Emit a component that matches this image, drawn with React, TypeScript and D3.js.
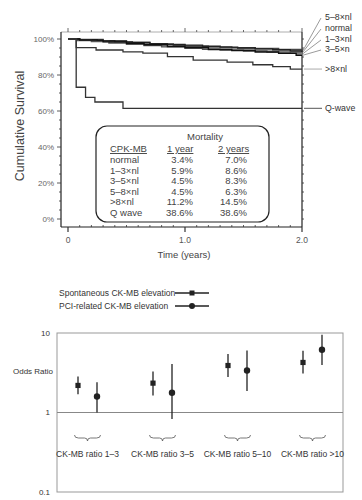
import * as d3 from "d3";

// Kaplan-Meier curves, [time in years, survival %]
const curve58 = [[0, 100], [0.1, 99.8], [0.3, 99.0], [0.5, 98.2], [0.7, 97.2], [0.9, 96.5], [1.0, 96.0], [1.2, 95.6], [1.4, 95.2], [1.6, 94.8], [1.8, 94.2], [2.0, 93.6]];
const curveNormal = [[0, 100], [0.1, 99.6], [0.25, 99.0], [0.4, 98.4], [0.55, 97.9], [0.7, 97.4], [0.85, 97.0], [1.0, 96.6], [1.15, 96.0], [1.3, 95.5], [1.45, 95.0], [1.6, 94.5], [1.75, 94.0], [1.9, 93.3], [2.0, 92.8]];
const curve13 = [[0, 100], [0.08, 99.2], [0.2, 98.6], [0.35, 97.8], [0.5, 97.0], [0.65, 96.4], [0.8, 95.6], [1.0, 94.8], [1.15, 94.3], [1.3, 93.8], [1.5, 93.3], [1.7, 92.7], [1.9, 92.3], [2.0, 91.9]];
const curve35 = [[0, 100], [0.1, 99.4], [0.3, 98.4], [0.5, 97.6], [0.65, 96.8], [0.85, 95.8], [1.0, 95.2], [1.2, 94.2], [1.4, 93.6], [1.6, 92.8], [1.8, 92.0], [1.95, 91.0], [2.0, 91.0]];
const curveGt8 = [[0, 100], [0.07, 95.2], [0.24, 93.9], [0.47, 92.9], [0.64, 92.1], [0.85, 90.2], [1.07, 88.3], [1.36, 87.2], [1.58, 85.7], [1.75, 84.6], [1.9, 83.3], [2.0, 83.3]];
const curveQ = [[0, 100], [0.07, 73.2], [0.15, 67.6], [0.23, 65.0], [0.47, 61.5], [2.0, 61.5]];

const curveLabels = ["5–8×nl", "normal", "1–3×nl", "3–5×n", ">8×nl", "Q-wave"];
const yTicks = [0, 20, 40, 60, 80, 100];
const xTicks = [0, 1, 2];

// mortality table
const tableRows = ["normal", "1–3×nl", "3–5×nl", "5–8×nl", ">8×nl", "Q wave"];
const mort1 = ["3.4%", "5.9%", "4.5%", "4.5%", "11.2%", "38.6%"];
const mort2 = ["7.0%", "8.6%", "8.3%", "6.3%", "14.5%", "38.6%"];

// odds ratio chart
const groups = ["CK-MB ratio 1–3", "CK-MB ratio 3–5", "CK-MB ratio 5–10", "CK-MB ratio >10"];
const spontOR = [2.19, 2.34, 3.9, 4.26];
const spontLo = [1.7, 1.64, 2.79, 3.09];
const spontHi = [2.84, 3.28, 5.43, 5.97];
const pciOR = [1.59, 1.77, 3.38, 6.15];
const pciLo = [1.0, 0.83, 1.87, 3.95];
const pciHi = [2.41, 4.06, 6.03, 9.5];
const orTicks = [0.1, 1, 10];

const font = "'Liberation Sans', Arial, sans-serif";

const sx = d3.scaleLinear().domain([0, 2]).range([68, 302]);
const sy = d3.scaleLinear().domain([0, 100]).range([219, 39]);
const line = d3.line<number[]>().x(d => sx(d[0])).y(d => sy(d[1])).curve(d3.curveStepAfter);

const cluster = [curve58, curveNormal, curve13, curve35];
const stepAt = (c: number[][], t: number) => {
  let v = c[0][1];
  for (const p of c) if (p[0] <= t) v = p[1];
  return v;
};
const times = Array.from(new Set(cluster.flatMap(c => c.map(p => p[0])))).sort((a, b) => a - b);
const band = times.map(t => ({ t, hi: d3.max(cluster, c => stepAt(c, t)), lo: d3.min(cluster, c => stepAt(c, t)) }));
const bandArea = d3.area<any>().x(d => sx(d.t)).y0(d => sy(d.lo)).y1(d => sy(d.hi)).curve(d3.curveStepAfter);

const bx = d3.scaleBand().domain(groups).range([50, 350]);
const ly = d3.scaleLog().domain([0.1, 10]).range([492, 333]);

export default function App() {
  const minorX = d3.range(0, 20.5, 1).map(i => i / 10);
  const minorY = d3.range(0, 101, 5);
  const ends = [curve58, curveNormal, curve13, curve35, curveGt8, curveQ];
  const labelY = [17, 28, 39, 49, 69, 111];

  return (
    <svg width={362} height={500} style={{ position: "absolute", left: 0, top: 0, background: "#fff" }} fontFamily={font}>
      {/* top chart frame */}
      <line x1={61} x2={302} y1={32} y2={32} stroke="#999" strokeWidth={0.8} />
      <line x1={61} x2={61} y1={32} y2={227} stroke="#222" strokeWidth={1.2} />
      <line x1={302} x2={302} y1={32} y2={227} stroke="#222" strokeWidth={1.2} />
      <line x1={61} x2={302} y1={227} y2={227} stroke="#222" strokeWidth={1.2} />
      {minorX.map(t => (
        <g key={"tx" + t}>
          <line x1={sx(t)} x2={sx(t)} y1={32} y2={xTicks.includes(t) ? 28 : 30} stroke="#444" strokeWidth={0.8} />
          <line x1={sx(t)} x2={sx(t)} y1={227} y2={xTicks.includes(t) ? 232 : 225} stroke="#333" strokeWidth={xTicks.includes(t) ? 1.2 : 0.8} />
        </g>
      ))}
      {minorY.map(v => (
        <g key={"ty" + v}>
          <line x1={61} x2={yTicks.includes(v) ? 57 : 59} y1={sy(v)} y2={sy(v)} stroke="#333" strokeWidth={0.8} />
          <line x1={302} x2={304} y1={sy(v)} y2={sy(v)} stroke="#333" strokeWidth={0.8} />
        </g>
      ))}
      {yTicks.map(v => (
        <text key={"yl" + v} x={54} y={sy(v)} dy="0.35em" textAnchor="end" fontSize={8} fill="#666">{v}%</text>
      ))}
      {xTicks.map(t => (
        <text key={"xl" + t} x={sx(t)} y={243} textAnchor="middle" fontSize={8.5} fill="#555">{t === 0 ? "0" : t.toFixed(1)}</text>
      ))}
      <text x={184} y={258} textAnchor="middle" fontSize={9.5} fill="#444">Time (years)</text>
      <text transform="translate(24,126) rotate(-90)" textAnchor="middle" fontSize={12.5} fill="#444">Cumulative Survival</text>

      {/* curves */}
      <path d={bandArea(band) || ""} fill="#aaa" />
      <path d={line(curve58 as any) || ""} fill="none" stroke="#444" strokeWidth={1.4} />
      <path d={line(curveNormal as any) || ""} fill="none" stroke="#222" strokeWidth={1.4} />
      <path d={line(curve13 as any) || ""} fill="none" stroke="#555" strokeWidth={1.4} />
      <path d={line(curve35 as any) || ""} fill="none" stroke="#111" strokeWidth={1.4} />
      <path d={line(curveGt8 as any) || ""} fill="none" stroke="#333" strokeWidth={1.3} />
      <path d={line(curveQ as any) || ""} fill="none" stroke="#333" strokeWidth={1.3} />

      {/* right labels with leaders */}
      {ends.map((c, i) => {
        const endY = sy(c[c.length - 1][1]);
        return (
          <g key={"lab" + i}>
            <line x1={i < 4 ? 303 : 304} y1={endY} x2={i < 4 ? 321 : 322} y2={i < 4 ? labelY[i] + 1 : endY} stroke={i === 4 ? "#aaa" : "#555"} strokeWidth={i < 4 ? 0.6 : 1} />
            <text x={325} y={i < 4 ? labelY[i] : endY} dy="0.35em" fontSize={8.8} fill="#333">{curveLabels[i]}</text>
          </g>
        );
      })}

      {/* mortality table */}
      <rect x={96} y={126} width={173} height={96} rx={11} fill="#fff" stroke="#222" strokeWidth={1.2} />
      <text x={205} y={140} textAnchor="middle" fontSize={9.5} fill="#444">Mortality</text>
      <text x={110} y={152} fontSize={9.5} fill="#444" textDecoration="underline">CPK-MB</text>
      <text x={167} y={152} fontSize={9.5} fill="#444" textDecoration="underline">1 year</text>
      <text x={218} y={152} fontSize={9.5} fill="#444" textDecoration="underline">2 years</text>
      {tableRows.map((r, i) => (
        <g key={"row" + i} fontSize={9.5} fill="#444">
          <text x={110} y={163 + i * 10.6}>{r}</text>
          <text x={193} y={163 + i * 10.6} textAnchor="end">{mort1[i]}</text>
          <text x={247} y={163 + i * 10.6} textAnchor="end">{mort2[i]}</text>
        </g>
      ))}

      {/* odds ratio legend */}
      <text x={59} y={296} fontSize={8.5} fill="#333">Spontaneous CK-MB elevation</text>
      <text x={59} y={309} fontSize={8.5} fill="#333">PCI-related CK-MB elevation</text>
      <line x1={175} x2={209} y1={293} y2={293} stroke="#222" strokeWidth={1.3} />
      <rect x={189.5} y={290.5} width={5} height={5} fill="#222" />
      <line x1={175} x2={209} y1={306} y2={306} stroke="#222" strokeWidth={1.3} />
      <circle cx={192} cy={306} r={3} fill="#222" />

      {/* odds ratio frame */}
      <rect x={57} y={ly(10)} width={286} height={ly(0.1) - ly(10)} fill="none" stroke="#999" strokeWidth={1} />
      <line x1={57} x2={343} y1={ly(1)} y2={ly(1)} stroke="#888" strokeWidth={1} />
      {orTicks.map(v => (
        <text key={"or" + v} x={50} y={ly(v)} dy="0.35em" textAnchor="end" fontSize={8} fill="#333">{v}</text>
      ))}
      <text x={13} y={371} dy="0.35em" fontSize={8} fill="#333">Odds Ratio</text>

      {groups.map((g, i) => {
        const c = (bx(g) || 0) + bx.bandwidth() / 2;
        const xs = c - 9.5;
        const xp = c + 9.5;
        return (
          <g key={g}>
            <line x1={xs} x2={xs} y1={ly(spontLo[i])} y2={ly(spontHi[i])} stroke="#222" strokeWidth={1.3} />
            <rect x={xs - 2.6} y={ly(spontOR[i]) - 2.6} width={5.2} height={5.2} fill="#222" />
            <line x1={xp} x2={xp} y1={ly(pciLo[i])} y2={ly(pciHi[i])} stroke="#222" strokeWidth={1.3} />
            <circle cx={xp} cy={ly(pciOR[i])} r={3.2} fill="#222" />
            <path
              d={`M${c - 13},435 Q${c - 13},438 ${c - 9},438 L${c - 3},438 Q${c},438 ${c},441 Q${c},438 ${c + 3},438 L${c + 9},438 Q${c + 13},438 ${c + 13},435`}
              fill="none" stroke="#555" strokeWidth={0.8}
            />
            <text x={c} y={454} dy="0.35em" textAnchor="middle" fontSize={8.5} fill="#333">{g}</text>
          </g>
        );
      })}
    </svg>
  );
}
